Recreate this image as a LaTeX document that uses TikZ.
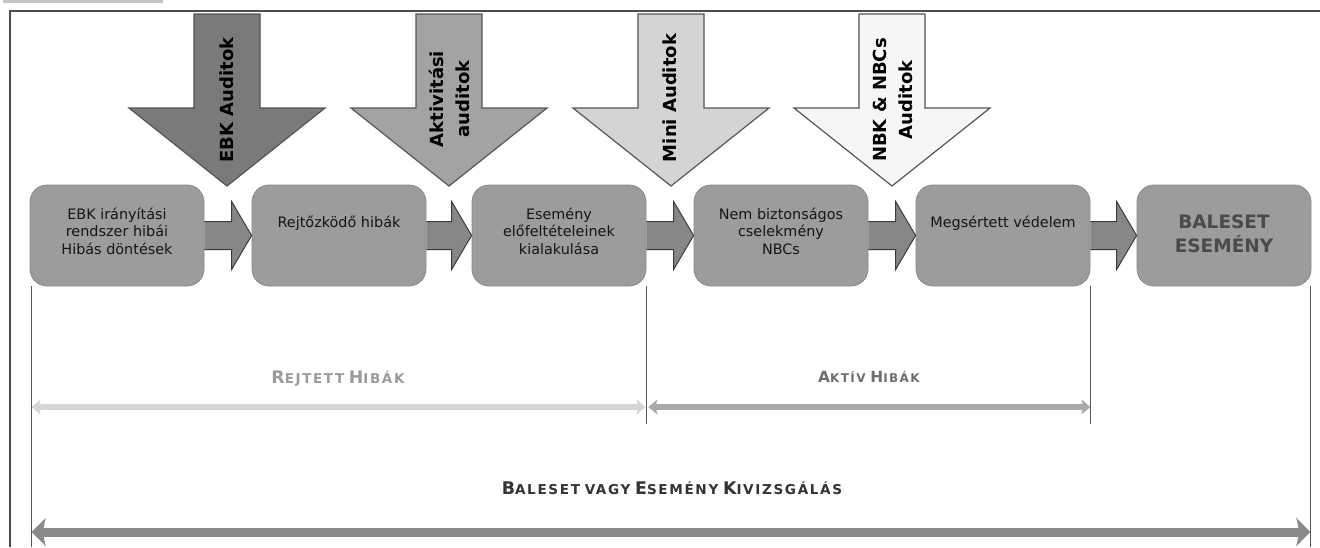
\documentclass[tikz,border=0pt]{standalone}
\usepackage{fontspec}
\setmainfont{DejaVu Sans}
\newfontfamily\boxfont{DejaVu Sans}
\newfontfamily\capfont[LetterSpace=12]{DejaVu Sans}
\usetikzlibrary{arrows.meta,calc}

\definecolor{barC}{HTML}{C4C4C4}
\definecolor{frameC}{HTML}{4D4D4D}
\definecolor{boxC}{HTML}{9C9C9C}
\definecolor{boxE}{HTML}{8A8A8A}
\definecolor{connC}{HTML}{878787}
\definecolor{connE}{HTML}{3C3C3C}
\definecolor{outlineC}{HTML}{555555}
\definecolor{ebkC}{HTML}{7A7A7A}
\definecolor{aktC}{HTML}{A3A3A3}
\definecolor{miniC}{HTML}{D4D4D4}
\definecolor{nbkC}{HTML}{F6F6F6}
\definecolor{txtC}{HTML}{151515}
\definecolor{bigT}{HTML}{4A4A4A}
\definecolor{lineC}{HTML}{555555}
\definecolor{rejC}{HTML}{D6D6D6}
\definecolor{aktS}{HTML}{A9A9A9}
\definecolor{balS}{HTML}{8A8A8A}
\definecolor{rejT}{HTML}{9B9B9B}
\definecolor{aktT}{HTML}{6E6E6E}
\definecolor{balT}{HTML}{333333}

% small caps built from two sizes, set per label
\def\capbig{16}\def\capsmall{12.5}
\newcommand\smc[2]{{\fontsize{\capbig}{\capbig}\selectfont #1}{\fontsize{\capsmall}{\capsmall}\selectfont #2}}

% audit arrow pointing down, centred on x = #1
\newcommand\auditarrow[2]{%
  \filldraw[audit, fill=#2] ({#1-33},14) -- ({#1+33},14) -- ({#1+33},108)
    -- ({#1+98},108) -- (#1,186) -- ({#1-98},108) -- ({#1-33},108) -- cycle;}

% block arrow from one process box to the next
\newcommand\blockconn[2]{%
  \path[conn] let \p1=(#1.east), \p2=(#2.west) in
    (\x1,\y1+14pt) -- (\x2-20pt,\y1+14pt) -- (\x2-20pt,\y1+34pt) -- (\x2,\y1)
    -- (\x2-20pt,\y1-34pt) -- (\x2-20pt,\y1-14pt) -- (\x1,\y1-14pt);}

\tikzset{
  panel/.style={rounded corners=17pt, fill=boxC, draw=boxE, line width=0.8pt,
    minimum width=174pt, minimum height=101pt, inner sep=0pt},
  boxtxt/.style={font=\boxfont\fontsize{14.4}{17.5}\selectfont, align=center, text=txtC},
  conn/.style={fill=connC, draw=connE, line width=1pt, line join=miter},
  audit/.style={draw=outlineC, line width=1.2pt, line join=miter},
  audtxt/.style={rotate=90, font=\bfseries\fontsize{18}{26}\selectfont, align=center, text=black},
  vline/.style={draw=lineC, line width=1.6pt},
  spanlab/.style={inner sep=1pt},
  frameline/.style={draw=frameC, line width=2.4pt}
}

\begin{document}
\begin{tikzpicture}[x=1pt, y=-1pt]
\useasboundingbox (0,0) rectangle (1320,547);
\fill[white] (0,0) rectangle (1320,547);

% header strip and outer frame
\fill[barC] (3,0) rectangle (163,3);
\draw[frameline] (10,547) -- (10,11) -- (1320,11);

% audit arrows
\auditarrow{227}{ebkC}
\auditarrow{449}{aktC}
\auditarrow{671}{miniC}
\auditarrow{892}{nbkC}
\node[audtxt] (aEBK) at (227,100) {EBK Auditok};
\node[audtxt] (aAkt) at (449,99) {Aktivitási\\auditok};
\node[audtxt] (aMini) at (670,98) {Mini Auditok};
\node[audtxt] (aNBK) at (893,100) {NBK \& NBCs\\Auditok};

% process boxes
\node[panel] (b1) at (117,235.5) {};
\node[panel] (b2) at (339,235.5) {};
\node[panel] (b3) at (559,235.5) {};
\node[panel] (b4) at (781,235.5) {};
\node[panel] (b5) at (1003,235.5) {};
\node[panel] (b6) at (1224,235.5) {};

\node[boxtxt] (t1) at (117,231) {EBK irányítási\\rendszer hibái\\Hibás döntések};
\node[boxtxt] (t2) at (339,223) {Rejtőzködő hibák};
\node[boxtxt] (t3) at (559,231) {Esemény\\előfeltételeinek\\kialakulása};
\node[boxtxt] (t4) at (781,231) {Nem biztonságos\\cselekmény\\NBCs};
\node[boxtxt] (t5) at (1003,223) {Megsértett védelem};
\node[font=\bfseries\fontsize{18.5}{24}\selectfont, text=bigT, align=center] (t6) at (1224,234) {BALESET\\ESEMÉNY};

% connectors between boxes
\blockconn{b1}{b2}
\blockconn{b2}{b3}
\blockconn{b3}{b4}
\blockconn{b4}{b5}
\blockconn{b5}{b6}

% reference lines below the boxes
\coordinate (bot) at (0,547);
\coordinate (lvl) at (0,424);
\coordinate (yA) at (0,407);
\coordinate (yB) at (0,532);
\coordinate (p1) at ([xshift=2pt]b1.south west);
\coordinate (p3) at (b3.south east);
\coordinate (p5) at (b5.south east);
\coordinate (p6) at ([xshift=-1pt]b6.south east);
\draw[vline] (p1) -- (p1 |- bot);
\draw[vline] (p3) -- (p3 |- lvl);
\draw[vline] (p5) -- (p5 |- lvl);
\draw[vline] (p6) -- (p6 |- bot);

\coordinate (a1) at (p1 |- yA);
\coordinate (a3) at (p3 |- yA);
\coordinate (a5) at (p5 |- yA);
\coordinate (c1) at (p1 |- yB);
\coordinate (c6) at (p6 |- yB);

% spans
\draw[rejC, line width=6pt, {Stealth[length=9pt,width=15pt,inset=2pt]}-{Stealth[length=9pt,width=15pt,inset=2pt]}]
  (a1) -- ([xshift=-1pt]a3);
\draw[aktS, line width=6pt, {Stealth[length=9pt,width=15pt,inset=2pt]}-{Stealth[length=9pt,width=15pt,inset=2pt]}]
  ([xshift=2pt]a3) -- (a5);
\draw[balS, line width=9pt, {Stealth[length=14pt,width=28pt,inset=3pt]}-{Stealth[length=14pt,width=28pt,inset=3pt]}]
  (c1) -- (c6);

\node[spanlab, text=rejT, font={\def\capbig{17.3}\def\capsmall{13.5}\capfont\bfseries}]
  (lRej) at (338,379) {\smc{R}{EJTETT} \smc{H}{IBÁK}};
\node[spanlab, text=aktT, font={\def\capbig{15.4}\def\capsmall{12}\capfont\bfseries}]
  (lAkt) at (869,377) {\smc{A}{KTÍV} \smc{H}{IBÁK}};
\node[spanlab, text=balT, font={\def\capbig{17.4}\def\capsmall{13.6}\capfont\bfseries}]
  (lBal) at (672,488) {\smc{B}{ALESET} \smc{}{VAGY} \smc{E}{SEMÉNY} \smc{K}{IVIZSGÁLÁS}};
\end{tikzpicture}
\end{document}
